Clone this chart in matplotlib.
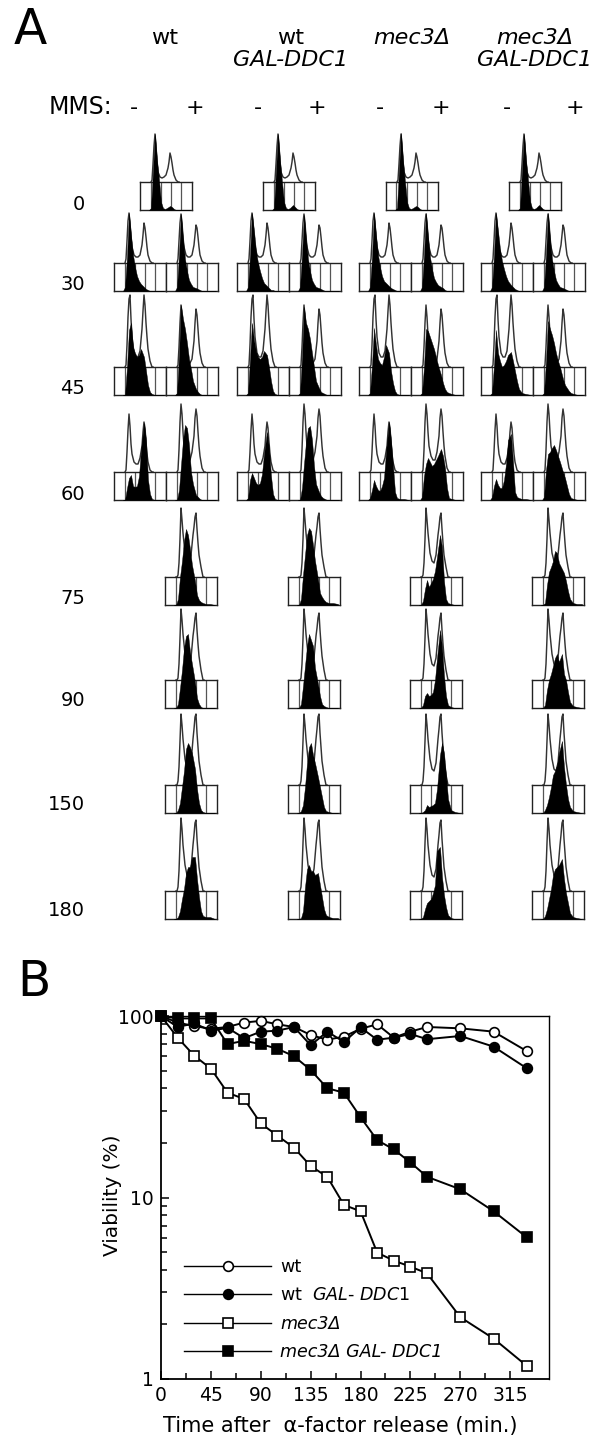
# flow cytometry panels (A) and viability curves (B)
import matplotlib
matplotlib.use('Agg')
import matplotlib.pyplot as plt

W, H = 592, 1437
plt.rcParams['font.family'] = ['DejaVu Sans']

strains = ['wt', 'GAL-DDC1', 'mec3\u0394']
times = ['0', '30', '45', '60', '75', '90', '150', '180']

# histogram outlines, height above box floor, one list per time point
x_out = [11, 12, 13, 14, 15, 16, 17, 18, 20, 22, 24, 26, 28, 29, 30, 31, 32, 33, 34, 36, 38, 39]
out_minus = [
    [28, 30, 46, 64, 76, 64, 48, 38, 33, 32, 33, 35, 42, 48, 57, 53, 47, 40, 35, 30, 28, 28],
    [28, 32, 50, 70, 78, 68, 54, 44, 36, 34, 34, 36, 46, 56, 68, 63, 54, 44, 36, 30, 28, 28],
    [28, 30, 50, 78, 96, 100, 76, 58, 42, 38, 38, 44, 66, 84, 100, 90, 72, 58, 46, 34, 28, 28],
    [28, 30, 48, 70, 86, 74, 56, 46, 38, 36, 36, 42, 54, 68, 78, 72, 58, 46, 38, 30, 28, 28],
]
out_plus = [
    None,
    [28, 32, 50, 68, 77, 68, 54, 44, 36, 34, 34, 36, 46, 56, 66, 63, 54, 44, 36, 30, 28, 28],
    [28, 30, 48, 72, 90, 78, 60, 48, 36, 32, 32, 36, 54, 72, 86, 80, 66, 52, 42, 32, 28, 28],
    [28, 30, 50, 78, 96, 86, 68, 54, 44, 40, 40, 48, 64, 82, 91, 84, 68, 54, 44, 32, 28, 28],
    [28, 28, 30, 42, 66, 97, 85, 72, 52, 44, 42, 50, 70, 78, 88, 92, 76, 62, 50, 38, 28, 28],
    [28, 28, 30, 44, 70, 99, 88, 74, 54, 44, 42, 50, 72, 80, 90, 95, 78, 64, 52, 38, 28, 28],
    [28, 28, 32, 46, 72, 99, 88, 74, 54, 44, 42, 50, 74, 84, 96, 99, 80, 66, 52, 38, 28, 28],
    [28, 28, 32, 48, 76, 101, 90, 74, 54, 44, 42, 50, 74, 84, 96, 99, 80, 66, 52, 38, 28, 28],
]

# filled profiles, rows are time points
x_fill = [9, 11, 13, 15, 17, 19, 21, 23, 25, 27, 30, 32, 34, 36, 38, 41, 45, 50]
wt_minus = [
    [0, 2, 40, 76, 50, 30, 8, 2, 1, 2, 4, 3, 1, 0, 0, 0, 0, 0],
    [0, 4, 34, 78, 56, 36, 24, 15, 10, 7, 4, 2, 1, 0, 0, 0, 0, 0],
    [0, 0, 28, 65, 72, 48, 42, 38, 40, 46, 38, 24, 10, 3, 1, 0, 0, 0],
    [0, 0, 12, 22, 25, 14, 13, 14, 24, 50, 77, 60, 20, 6, 1, 0, 0, 0],
]
wt_plus = [
    [0, 4, 36, 77, 52, 32, 20, 11, 7, 4, 3, 2, 1, 0, 0, 0, 0, 0],
    [0, 2, 40, 90, 76, 66, 52, 36, 26, 14, 6, 3, 1, 0, 0, 0, 0, 0],
    [0, 0, 10, 35, 60, 75, 72, 55, 28, 16, 5, 3, 1, 0, 0, 0, 0, 0],
    [0, 0, 6, 28, 44, 64, 76, 70, 56, 40, 24, 10, 5, 3, 2, 1, 1, 0],
    [0, 0, 4, 20, 38, 60, 72, 74, 56, 44, 26, 10, 4, 1, 0, 0, 0, 0],
    [0, 0, 3, 10, 26, 42, 64, 70, 66, 60, 44, 24, 10, 3, 1, 0, 0, 0],
    [0, 0, 2, 8, 20, 30, 46, 52, 52, 62, 62, 40, 22, 8, 3, 2, 2, 0],
]
gal_minus = [
    [0, 2, 40, 76, 50, 28, 8, 2, 1, 2, 5, 3, 1, 0, 0, 0, 0, 0],
    [0, 4, 36, 78, 60, 40, 28, 20, 13, 8, 5, 3, 1, 1, 0, 0, 0, 0],
    [0, 2, 36, 72, 55, 44, 38, 36, 38, 44, 40, 28, 14, 4, 1, 0, 0, 0],
    [0, 2, 20, 27, 22, 17, 15, 17, 26, 46, 68, 52, 24, 6, 1, 0, 0, 0],
]
gal_plus = [
    [0, 4, 36, 76, 52, 32, 20, 11, 7, 4, 3, 2, 1, 0, 0, 0, 0, 0],
    [0, 2, 38, 88, 72, 66, 56, 42, 28, 14, 7, 3, 2, 1, 0, 0, 0, 0],
    [0, 0, 12, 36, 58, 72, 74, 60, 34, 16, 8, 4, 2, 1, 0, 0, 0, 0],
    [0, 0, 6, 30, 50, 70, 77, 74, 60, 44, 26, 12, 8, 5, 3, 2, 2, 1],
    [0, 0, 4, 22, 42, 62, 74, 68, 62, 40, 24, 12, 4, 2, 1, 0, 0, 0],
    [0, 0, 2, 8, 26, 50, 66, 70, 58, 50, 36, 26, 16, 6, 2, 1, 0, 0],
    [0, 0, 1, 8, 32, 50, 54, 48, 48, 44, 46, 34, 22, 10, 4, 2, 1, 1],
]
mec_minus = [
    [0, 2, 40, 77, 50, 28, 8, 2, 1, 2, 4, 3, 1, 0, 0, 0, 0, 0],
    [0, 4, 34, 78, 56, 36, 24, 15, 10, 8, 5, 3, 2, 1, 0, 0, 0, 0],
    [0, 2, 30, 67, 50, 36, 32, 30, 38, 50, 42, 24, 12, 4, 1, 0, 0, 0],
    [0, 2, 10, 20, 14, 10, 9, 14, 22, 48, 78, 60, 34, 8, 2, 1, 1, 0],
]
mec_plus = [
    [0, 4, 36, 78, 54, 34, 22, 13, 9, 6, 4, 3, 1, 0, 0, 0, 0, 0],
    [0, 2, 28, 66, 64, 58, 52, 46, 38, 30, 20, 12, 6, 3, 2, 1, 0, 0],
    [0, 3, 24, 36, 42, 38, 34, 36, 40, 44, 51, 44, 32, 12, 2, 1, 0, 0],
    [0, 0, 4, 16, 25, 18, 22, 26, 34, 48, 70, 58, 24, 6, 2, 1, 0, 0],
    [0, 0, 3, 12, 15, 12, 13, 16, 28, 50, 78, 62, 32, 12, 3, 1, 0, 0],
    [0, 0, 1, 3, 8, 6, 7, 8, 10, 24, 58, 70, 60, 38, 14, 3, 1, 0],
    [0, 0, 2, 10, 16, 18, 20, 26, 34, 68, 72, 42, 24, 12, 4, 1, 0, 0],
]
mecgal_minus = [
    [0, 2, 40, 76, 50, 30, 9, 2, 1, 2, 5, 3, 1, 0, 0, 0, 0, 0],
    [0, 4, 36, 78, 60, 42, 30, 22, 15, 10, 6, 4, 2, 1, 0, 0, 0, 0],
    [0, 2, 30, 65, 42, 34, 28, 30, 34, 40, 43, 34, 24, 14, 6, 2, 1, 0],
    [0, 3, 14, 21, 15, 12, 12, 20, 36, 60, 66, 38, 8, 3, 2, 1, 1, 0],
]
mecgal_plus = [
    [0, 4, 36, 78, 52, 32, 20, 11, 7, 4, 3, 2, 1, 0, 0, 0, 0, 0],
    [0, 2, 34, 74, 66, 60, 52, 42, 34, 28, 16, 10, 7, 4, 2, 1, 0, 0],
    [0, 3, 30, 46, 48, 52, 55, 50, 44, 38, 28, 22, 14, 6, 2, 1, 0, 0],
    [0, 0, 2, 20, 33, 38, 44, 54, 52, 42, 36, 32, 24, 14, 6, 2, 1, 1],
    [0, 0, 3, 18, 28, 34, 42, 50, 54, 46, 54, 34, 28, 16, 6, 2, 1, 0],
    [0, 0, 3, 8, 16, 26, 38, 42, 48, 60, 72, 46, 28, 14, 6, 2, 1, 0],
    [0, 0, 3, 10, 20, 30, 44, 50, 52, 54, 60, 40, 26, 16, 6, 2, 1, 0],
]

# panel B
minutes = [0, 15, 30, 45, 60, 75, 90, 105, 120, 135, 150, 165, 180, 195, 210, 225, 240, 270, 300, 330]
via_wt = [100, 92, 88, 85, 87, 92, 94, 90, 87, 78.6, 74, 77, 85, 90, 76, 82, 87, 85.5, 82, 64]
via_wt_gal = [100, 87, 91, 83, 86, 75.5, 82, 83, 87, 69, 82, 72, 86.5, 74, 76, 79.6, 74.5, 77.6, 67.8, 51.5]
via_mec3 = [100, 76, 60.4, 51.3, 37.8, 34.9, 25.6, 21.9, 18.8, 14.9, 13, 9.1, 8.4, 4.97, 4.49, 4.16, 3.82, 2.19, 1.67, 1.18]
via_mec3_gal = [100, 97, 97, 97, 70, 73, 70, 66, 60, 50.4, 40, 37.8, 27.7, 20.7, 18.4, 15.6, 13, 11.1, 8.4, 6.03]
xticks_b = [0, 45, 90, 135, 180, 225, 270, 315]

fig = plt.figure(figsize=(W / 100, H / 100), dpi=100)


def px_axes(left, top, w, h):
    return fig.add_axes([left / W, 1 - (top + h) / H, w / W, h / H])


def px_text(x, y, s, **kw):
    kw.setdefault('va', 'center')
    kw.setdefault('ha', 'center')
    kw.setdefault('fontsize', 16)
    fig.text(x / W, 1 - y / H, s, **kw)


def histo(left, floor, outline, filled):
    ax = px_axes(left, floor - 28, 52, 28)
    ax.set_xlim(0, 52)
    ax.set_ylim(0, 28)
    ax.set_xticks([])
    ax.set_yticks([])
    for s in ax.spines.values():
        s.set_linewidth(1.0)
        s.set_color('#222222')
    for d in [10.5, 21, 31, 41]:
        ax.axvline(d, color='#555555', lw=0.9)
    ax.plot(x_out, outline, color='#333333', lw=1.05, clip_on=False)
    ax.fill_between(x_fill, 0, filled, color='black', lw=0.3, clip_on=False, zorder=5)


floors = [210, 291, 395, 500, 605, 708, 813, 919]
lefts = [114, 237, 359, 481]
lefts_single = [140, 263, 386, 509]
plus_lefts = [165, 288, 410, 532]
minus_fill = [wt_minus, gal_minus, mec_minus, mecgal_minus]
plus_fill = [wt_plus, gal_plus, mec_plus, mecgal_plus]

for c in range(4):
    histo(lefts_single[c], floors[0], out_minus[0], minus_fill[c][0])
    for r in range(1, 4):
        histo(lefts[c], floors[r], out_minus[r], minus_fill[c][r])
        histo(lefts[c] + 52, floors[r], out_plus[r], plus_fill[c][r - 1])
    for r in range(4, 8):
        histo(plus_lefts[c], floors[r], out_plus[r], plus_fill[c][r - 1])

# panel A texts
px_text(30, 30, 'A', fontsize=35)
px_text(165, 38, strains[0])
px_text(291, 38, strains[0])
px_text(290, 60, strains[1], style='italic')
px_text(412, 38, strains[2], style='italic')
px_text(535, 38, strains[2], style='italic')
px_text(535, 60, strains[1], style='italic')
px_text(80, 107, 'MMS:', fontsize=17)
for x, s in zip([134, 195, 258, 317, 380, 441, 507, 575], '-+-+-+-+'):
    px_text(x, 108, s, fontsize=16)
for t, y in zip(times, [204, 284, 389, 494, 598, 701, 805, 910]):
    px_text(85, y, t, ha='right', fontsize=14)

px_text(34, 982, 'B', fontsize=35)

# panel B
ax = px_axes(161, 1016, 388, 363)
styles = [
    (via_wt, 'o', 'white', 'wt'),
    (via_wt_gal, 'o', 'black', 'wt  $\\mathit{GAL}$- $\\mathit{DDC1}$'),
    (via_mec3, 's', 'white', 'mec3\u0394'),
    (via_mec3_gal, 's', 'black', 'mec3\u0394 GAL- DDC1'),
]
for vals, m, fc, lab in styles:
    ax.plot(minutes, vals, color='black', lw=1.4, marker=m, ms=7, mfc=fc, mec='black',
            mew=1.2, label=lab, clip_on=False, zorder=3)

ax.set_yscale('log')
ax.set_ylim(1, 100)
ax.set_xlim(0, 350)
ax.set_xticks(xticks_b)
ax.set_xticks([22.5 + 45 * i for i in range(7)], minor=True)
ax.set_yticks([1, 10, 100])
ax.set_yticklabels(['1', '10', '100'])
ax.tick_params(which='major', direction='in', length=6, width=1.1, labelsize=13.5, pad=5)
ax.tick_params(which='minor', direction='in', length=4, width=1.1)
ax.tick_params(axis='y', labelleft=False, which='minor')
ax.set_xlabel('Time after  \u03b1-factor release (min.)', fontsize=15)
ax.xaxis.set_label_coords(0.461, -0.102)
ax.set_ylabel('Viability (%)', fontsize=14.5)
ax.yaxis.set_label_coords(-0.10, 0.507)
ax.spines['left'].set_linewidth(1.3)
ax.spines['bottom'].set_linewidth(1.3)
ax.spines['top'].set_linewidth(1)
ax.spines['right'].set_linewidth(1)

leg = ax.legend(loc='lower left', bbox_to_anchor=(0.059, 0.049), frameon=False, numpoints=1,
                fontsize=12.6, handlelength=5, labelspacing=0.6, handletextpad=0.5,
                borderpad=0, borderaxespad=0)
for ln in leg.get_lines():
    ln.set_linewidth(1)
    ln.set_markersize(7)
for i in [2, 3]:
    leg.get_texts()[i].set_fontstyle('italic')

fig.savefig('out.png', dpi=100)
